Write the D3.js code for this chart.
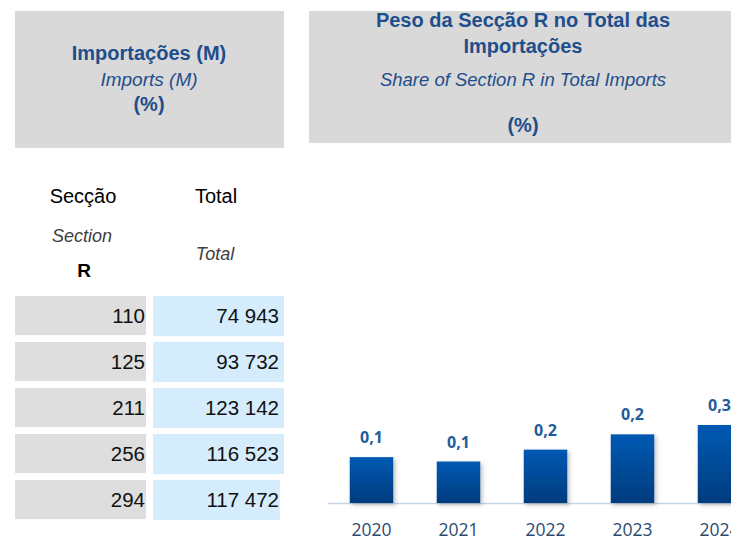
<!DOCTYPE html>
<html>
<head>
<meta charset="utf-8">
<script src="https://cdn.jsdelivr.net/npm/d3@7"></script>
<style>
  body { margin: 0; background: #fff; }
  svg { display: block; font-family: "Liberation Sans", Arial, sans-serif; }
</style>
</head>
<body>
<svg id="chart"></svg>
<script>
var svgWidth = 731;
var svgHeight = 537;

// data
var years = ["2020", "2021", "2022", "2023", "2024"];
var sectionR = [110, 125, 211, 256, 294];
var totalImports = [74943, 93732, 123142, 116523, 117472];
var shareR = [0.147, 0.133, 0.171, 0.220, 0.250];

var svg = d3.select("#chart")
          .attr("width", svgWidth)
          .attr("height", svgHeight);

var headColor = "#1F4E8C";
var fmtInt = function(v) { return d3.format(",")(v).replace(/,/g, " "); };
var fmtShare = function(v) { return d3.format(".1f")(v).replace(".", ","); };

// left header box
svg.append("rect").attr("x", 15).attr("y", 11).attr("width", 269).attr("height", 137).attr("fill", "#D9D9D9");
svg.append("text").attr("x", 149).attr("y", 60).attr("text-anchor", "middle")
   .attr("fill", headColor).style("font-size", "20px").style("font-weight", "bold").text("Importações (M)");
svg.append("text").attr("x", 149).attr("y", 86).attr("text-anchor", "middle")
   .attr("fill", headColor).style("font-size", "19px").style("font-style", "italic").text("Imports (M)");
svg.append("text").attr("x", 149).attr("y", 111).attr("text-anchor", "middle")
   .attr("fill", headColor).style("font-size", "20px").style("font-weight", "bold").text("(%)");

// right header box
svg.append("rect").attr("x", 309).attr("y", 11).attr("width", 430).attr("height", 132).attr("fill", "#D9D9D9");
var titleX = 523;
svg.append("text").attr("x", titleX).attr("y", 27).attr("text-anchor", "middle")
   .attr("fill", headColor).style("font-size", "20px").style("font-weight", "bold").text("Peso da Secção R no Total das");
svg.append("text").attr("x", titleX).attr("y", 53).attr("text-anchor", "middle")
   .attr("fill", headColor).style("font-size", "20px").style("font-weight", "bold").text("Importações");
svg.append("text").attr("x", titleX).attr("y", 86).attr("text-anchor", "middle")
   .attr("fill", headColor).style("font-size", "18.5px").style("font-style", "italic").text("Share of Section R in Total Imports");
svg.append("text").attr("x", titleX).attr("y", 132).attr("text-anchor", "middle")
   .attr("fill", headColor).style("font-size", "20px").style("font-weight", "bold").text("(%)");

// table column headers
svg.append("text").attr("x", 83).attr("y", 203).attr("text-anchor", "middle")
   .attr("fill", "#000").style("font-size", "20px").text("Secção");
svg.append("text").attr("x", 216).attr("y", 203).attr("text-anchor", "middle")
   .attr("fill", "#000").style("font-size", "20px").text("Total");
svg.append("text").attr("x", 82).attr("y", 242).attr("text-anchor", "middle")
   .attr("fill", "#404040").style("font-size", "18px").style("font-style", "italic").text("Section");
svg.append("text").attr("x", 84).attr("y", 277).attr("text-anchor", "middle")
   .attr("fill", "#000").style("font-size", "19px").style("font-weight", "bold").text("R");
svg.append("text").attr("x", 215).attr("y", 260).attr("text-anchor", "middle")
   .attr("fill", "#404040").style("font-size", "18px").style("font-style", "italic").text("Total");

// table rows
var rowScale = d3.scaleBand().domain(years).range([296, 296 + 46 * 4.85]).paddingInner(0.15).paddingOuter(0);
var rows = svg.selectAll(".row").data(years).enter().append("g")
   .attr("class", "row")
   .attr("transform", function(d) { return "translate(0," + rowScale(d) + ")"; });

rows.append("rect").attr("x", 15).attr("width", 131).attr("height", rowScale.bandwidth()).attr("fill", "#DEDEDE");
rows.append("rect").attr("x", 153)
    .attr("width", function(d, i) { return i === years.length - 1 ? 127 : 131; })
    .attr("height", rowScale.bandwidth() + 1).attr("fill", "#D4ECFB");
rows.append("text").attr("x", 145).attr("y", rowScale.bandwidth() / 2 + 7.5).attr("text-anchor", "end")
    .attr("fill", "#111").style("font-size", "20.5px")
    .text(function(d, i) { return fmtInt(sectionR[i]); });
rows.append("text").attr("x", 279).attr("y", rowScale.bandwidth() / 2 + 7.5).attr("text-anchor", "end")
    .attr("fill", "#111").style("font-size", "20.5px")
    .text(function(d, i) { return fmtInt(totalImports[i]); });

// bar chart
var baseY = 503;
var xScale = d3.scaleBand().domain(years).range([328, 763]).paddingInner(0.5).paddingOuter(0.25);
var yScale = d3.scaleLinear().domain([0, 0.25]).range([baseY, baseY - 78]);

var defs = svg.append("defs");
var grad = defs.append("linearGradient").attr("id", "barGrad")
   .attr("x1", 0).attr("y1", 0).attr("x2", 0).attr("y2", 1);
grad.append("stop").attr("offset", "0%").attr("stop-color", "#0059B3");
grad.append("stop").attr("offset", "100%").attr("stop-color", "#003C7D");
var shadow = defs.append("filter").attr("id", "shadow").attr("x", "-20%").attr("y", "-20%").attr("width", "150%").attr("height", "150%");
shadow.append("feDropShadow").attr("dx", 2).attr("dy", 2).attr("stdDeviation", 2).attr("flood-color", "#000").attr("flood-opacity", 0.25);

svg.append("line").attr("x1", 328).attr("x2", svgWidth).attr("y1", baseY + 0.5).attr("y2", baseY + 0.5)
   .attr("stroke", "#C5D5EA").attr("stroke-width", 1.5);

svg.selectAll(".bar").data(shareR).enter().append("rect")
   .attr("class", "bar")
   .attr("x", function(d, i) { return xScale(years[i]); })
   .attr("y", function(d) { return yScale(d); })
   .attr("width", xScale.bandwidth())
   .attr("height", function(d) { return baseY - yScale(d); })
   .attr("fill", "url(#barGrad)")
   .attr("filter", "url(#shadow)");

svg.selectAll(".bar-label").data(shareR).enter().append("text")
   .attr("class", "bar-label")
   .attr("x", function(d, i) { return xScale(years[i]) + xScale.bandwidth() / 2; })
   .attr("y", function(d) { return yScale(d) - 14; })
   .attr("text-anchor", "middle")
   .attr("fill", "#1F5C99")
   .style("font-family", "'Open Sans', 'Noto Sans', sans-serif")
   .style("font-size", "16px").style("font-weight", "bold")
   .text(function(d) { return fmtShare(d); });

svg.selectAll(".year").data(years).enter().append("text")
   .attr("class", "year")
   .attr("x", function(d) { return xScale(d) + xScale.bandwidth() / 2; })
   .attr("y", 536)
   .attr("text-anchor", "middle")
   .attr("fill", "#2C4A70")
   .style("font-family", "'Open Sans', 'Noto Sans', sans-serif")
   .style("font-size", "17.5px")
   .text(function(d) { return d; });
</script>
</body>
</html>
